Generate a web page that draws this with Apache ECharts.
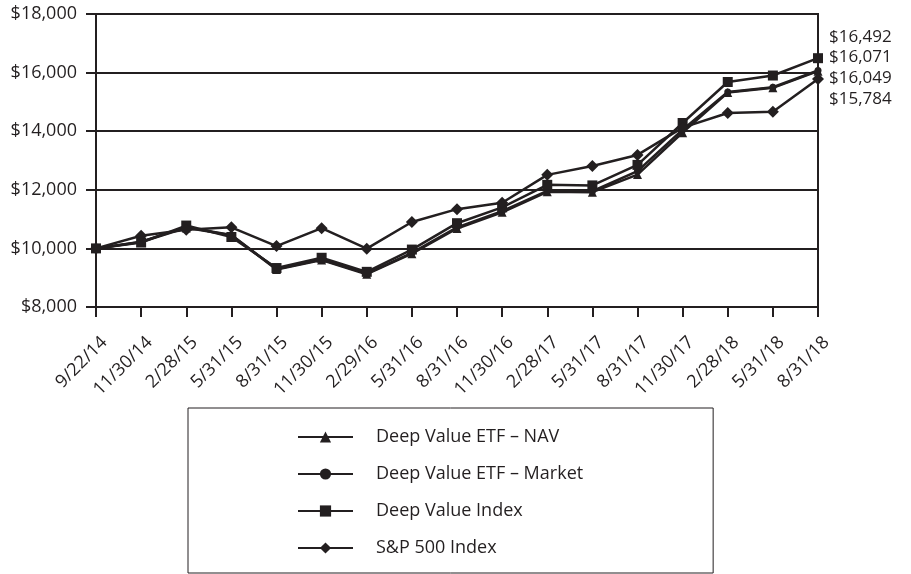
<!DOCTYPE html>
<html>
<head>
<meta charset="utf-8">
<script src="https://cdn.jsdelivr.net/npm/echarts@6/dist/echarts.min.js"></script>
<style>
html,body{margin:0;padding:0;background:#fff;}
#c{width:911px;height:574px;}
</style>
</head>
<body>
<div id="c"></div>
<script>
const categories = ['9/22/14','11/30/14','2/28/15','5/31/15','8/31/15','11/30/15','2/29/16','5/31/16','8/31/16','11/30/16','2/28/17','5/31/17','8/31/17','11/30/17','2/28/18','5/31/18','8/31/18'];
const navValues    = [10000,10220,10700,10450,9280,9600,9120,9820,10680,11230,11930,11920,12520,13950,15320,15480,16049];
const marketValues = [10000,10230,10720,10460,9300,9620,9140,9850,10720,11270,11960,11950,12640,14050,15340,15500,16071];
const indexValues  = [10000,10200,10780,10390,9330,9680,9200,9960,10860,11400,12170,12150,12850,14280,15680,15900,16492];
const spValues     = [10000,10430,10640,10720,10080,10690,9990,10900,11340,11560,12510,12810,13190,14120,14620,14660,15784];
const yTicks = [8000,10000,12000,14000,16000,18000];

const FONT = 'Open Sans';
const INK = '#231f20';
const FS = 18;
const fmt = v => '$' + Math.round(v).toLocaleString('en-US');

function mk(name, data, symbol, size, dy) {
  return {
    name, type: 'line', data, symbol, symbolSize: size,
    showAllSymbol: true,
    lineStyle: {color: INK, width: 2.5},
    itemStyle: {color: INK},
    emphasis: {disabled: true},
    endLabel: {
      show: true, formatter: p => fmt(p.value), distance: 11, offset: [0, dy],
      color: INK, fontFamily: FONT, fontSize: 17
    },
    animation: false
  };
}

const chart = echarts.init(document.getElementById('c'), null, {renderer: 'canvas'});
chart.setOption({
  animation: false,
  grid: {left: 96, right: 93, top: 14, bottom: 267, show: true, borderColor: INK, borderWidth: 2, containLabel: false},
  xAxis: {
    type: 'category', data: categories, boundaryGap: false,
    axisLine: {lineStyle: {color: INK, width: 2}},
    axisTick: {show: true, length: 10, lineStyle: {color: INK, width: 2}, alignWithLabel: true},
    axisLabel: {rotate: 45, color: INK, fontFamily: FONT, fontSize: FS, margin: 24, interval: 0,
      verticalAlign: 'top', padding: [3, 0, 0, 0]},
    splitLine: {show: false}
  },
  yAxis: {
    type: 'value', min: yTicks[0], max: yTicks[yTicks.length-1], interval: 2000,
    axisLine: {show: true, lineStyle: {color: INK, width: 2}},
    axisTick: {show: true, length: 10, lineStyle: {color: INK, width: 2}},
    axisLabel: {color: INK, fontFamily: FONT, fontSize: FS, margin: 19, formatter: v => fmt(v)},
    splitLine: {show: true, lineStyle: {color: INK, width: 2}}
  },
  legend: {
    orient: 'vertical', left: 188, top: 408, height: 220,
    padding: [20, 130, 16, 109],
    itemWidth: 55, itemHeight: 14, itemGap: 19,
    borderColor: INK, borderWidth: 1, backgroundColor: '#fff',
    textStyle: {color: INK, fontFamily: FONT, fontSize: FS, padding: [0, 0, 0, 18]},
    data: ['Deep Value ETF – NAV','Deep Value ETF – Market','Deep Value Index','S&P 500 Index']
  },
  series: [
    mk('Deep Value ETF – NAV', navValues, 'triangle', 9, 7),
    mk('Deep Value ETF – Market', marketValues, 'circle', 7, -13.5),
    mk('Deep Value Index', indexValues, 'rect', 10, -21),
    mk('S&P 500 Index', spValues, 'diamond', 12, 20)
  ]
});
</script>
</body>
</html>
